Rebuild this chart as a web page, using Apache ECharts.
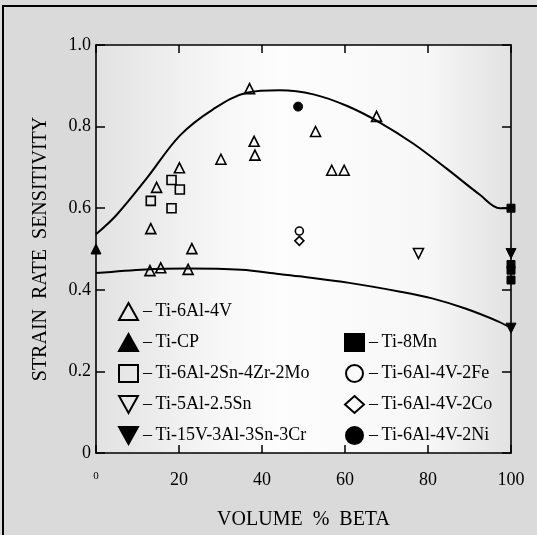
<!DOCTYPE html>
<html>
<head>
<meta charset="utf-8">
<script src="https://cdn.jsdelivr.net/npm/echarts@6/dist/echarts.min.js"></script>
<style>
html, body { margin: 0; padding: 0; background: #dadada; }
#chart { width: 537px; height: 535px; }
</style>
</head>
<body>
<div id="chart"></div>
<script>
// axis ticks
var xTicks = [0, 20, 40, 60, 80, 100];
var yTicks = [0, 0.2, 0.4, 0.6, 0.8, 1.0];

// measured points, [volume % beta, strain rate sensitivity]
var ti64 = [[37, 0.893], [52.9, 0.788], [38.1, 0.764], [38.3, 0.730], [30.1, 0.720],
    [20.1, 0.699], [14.6, 0.651], [13.2, 0.550], [23.1, 0.501], [13.0, 0.447],
    [15.6, 0.454], [22.2, 0.450], [67.6, 0.825], [56.8, 0.693], [59.8, 0.693]];
var tiCP = [[0, 0.50]];
var ti6242 = [[18.2, 0.669], [20.2, 0.646], [13.2, 0.618], [18.2, 0.600]];
var ti5Al = [[77.7, 0.489]];
var ti15V = [[100, 0.489], [100, 0.306]];
var ti8Mn = [[100, 0.600], [100, 0.462], [100, 0.448], [100, 0.424]];
var ti64Fe = [[49, 0.544]];
var ti64Co = [[49, 0.520]];
var ti64Ni = [[48.7, 0.849]];

// envelope curves
var upperCurve = [[0, 0.536], [5, 0.584], [12.2, 0.673], [20.2, 0.778], [28.3, 0.843],
    [36.3, 0.883], [44.3, 0.889], [52.4, 0.879], [60.4, 0.851], [68.4, 0.810],
    [76.5, 0.758], [84.5, 0.697], [92.5, 0.633], [97.3, 0.600], [100, 0.600]];
var lowerCurve = [[0, 0.441], [12, 0.450], [22, 0.452], [35, 0.449], [44, 0.439],
    [49, 0.433], [61, 0.417], [73, 0.396], [81, 0.379], [89, 0.354], [97, 0.322], [100, 0.306]];

var downTri = 'path://M0,0L10,0L5,9Z';
var serif = '"Liberation Serif", "DejaVu Serif", serif';

var chart = echarts.init(document.getElementById('chart'));

function pts(name, data, symbol, size, filled) {
    return {
        name: name,
        type: 'scatter',
        data: data,
        symbol: symbol,
        symbolSize: size,
        itemStyle: filled
            ? { color: '#000', borderColor: '#000', borderWidth: 1, opacity: 1 }
            : { color: 'rgba(255,255,255,0)', borderColor: '#000', borderWidth: 1.6, opacity: 1 },
        z: 5
    };
}

function curve(data) {
    return {
        type: 'line',
        data: data,
        smooth: 0.35,
        symbol: 'none',
        lineStyle: { color: '#000', width: 2 },
        silent: true,
        z: 3
    };
}

var legendText = { fontFamily: serif, fontSize: 18, color: '#000', lineHeight: 18 };
var tickStyle = { color: '#000', width: 1.5 };

chart.setOption({
    backgroundColor: '#dadada',
    animation: false,
    graphic: [
        { type: 'polyline', shape: { points: [[3, 535], [3, 6], [537, 6]] },
          style: { stroke: '#000', lineWidth: 2, fill: null } }
    ],
    grid: {
        left: 96, right: 26, top: 45, bottom: 77,
        show: true,
        borderWidth: 0,
        backgroundColor: {
            type: 'linear', x: 0, y: 0, x2: 1, y2: 0,
            colorStops: [
                { offset: 0, color: '#e2e2e2' },
                { offset: 0.3, color: '#f7f7f7' },
                { offset: 0.45, color: '#fdfdfd' },
                { offset: 0.8, color: '#f7f7f7' },
                { offset: 1, color: '#e2e2e2' }
            ]
        }
    },
    legend: [
        {
            orient: 'vertical', left: 113, top: 297,
            itemWidth: 19, itemHeight: 17, itemGap: 12,
            textStyle: legendText,
            formatter: function (n) { return '\u2013\u2009' + n; },
            data: ['Ti-6Al-4V', 'Ti-CP', 'Ti-6Al-2Sn-4Zr-2Mo', 'Ti-5Al-2.5Sn', 'Ti-15V-3Al-3Sn-3Cr']
        },
        {
            orient: 'vertical', left: 339, top: 328,
            itemWidth: 19, itemHeight: 17, itemGap: 12,
            textStyle: legendText,
            formatter: function (n) { return '\u2013\u2009' + n; },
            data: ['Ti-8Mn', 'Ti-6Al-4V-2Fe', 'Ti-6Al-4V-2Co', 'Ti-6Al-4V-2Ni']
        }
    ],
    xAxis: [
        {
            type: 'value', min: xTicks[0], max: xTicks[xTicks.length - 1], interval: 20,
            name: 'VOLUME  %  BETA', nameLocation: 'middle', nameGap: 57,
            nameTextStyle: { fontFamily: serif, fontSize: 20, color: '#000' },
            axisLine: { onZero: false, lineStyle: { color: '#000', width: 1.6 } },
            axisTick: { inside: true, length: 8, lineStyle: tickStyle },
            axisLabel: {
                margin: 18, fontFamily: serif, fontSize: 18, color: '#000',
                formatter: function (v) { return v === 0 ? '{s|0}' : String(v); },
                rich: { s: { fontSize: 11, fontFamily: serif, color: '#000', padding: [0, 0, 16, 0] } }
            },
            splitLine: { show: false }
        },
        {
            type: 'value', position: 'top', min: 0, max: 100, interval: 20,
            axisLine: { onZero: false, lineStyle: { color: '#000', width: 1.6 } },
            axisTick: { inside: true, length: 8, lineStyle: tickStyle },
            axisLabel: { show: false },
            splitLine: { show: false }
        }
    ],
    yAxis: [
        {
            type: 'value', min: yTicks[0], max: yTicks[yTicks.length - 1], interval: 0.2,
            name: 'STRAIN  RATE  SENSITIVITY', nameLocation: 'middle', nameGap: 45,
            nameTextStyle: { fontFamily: serif, fontSize: 20, color: '#000' },
            axisLine: { onZero: false, lineStyle: { color: '#000', width: 1.6 } },
            axisTick: { inside: true, length: 9, lineStyle: tickStyle },
            axisLabel: {
                margin: 5, fontFamily: serif, fontSize: 18, color: '#000',
                formatter: function (v) { return v === 0 ? '0' : v.toFixed(1); }
            },
            splitLine: { show: false }
        },
        {
            type: 'value', position: 'right', min: 0, max: 1, interval: 0.2,
            axisLine: { show: true, onZero: false, lineStyle: { color: '#000', width: 1.6 } },
            axisTick: { inside: true, length: 9, lineStyle: tickStyle },
            axisLabel: { show: false },
            splitLine: { show: false }
        }
    ],
    series: [
        curve(upperCurve),
        curve(lowerCurve),
        pts('Ti-6Al-4V', ti64, 'triangle', 10, false),
        pts('Ti-CP', tiCP, 'triangle', 10, true),
        pts('Ti-6Al-2Sn-4Zr-2Mo', ti6242, 'rect', 9, false),
        pts('Ti-5Al-2.5Sn', ti5Al, downTri, 10, false),
        pts('Ti-15V-3Al-3Sn-3Cr', ti15V, downTri, 10, true),
        pts('Ti-8Mn', ti8Mn, 'rect', 8, true),
        pts('Ti-6Al-4V-2Fe', ti64Fe, 'circle', 8, false),
        pts('Ti-6Al-4V-2Co', ti64Co, 'diamond', 9, false),
        pts('Ti-6Al-4V-2Ni', ti64Ni, 'circle', 9, true)
    ]
});
</script>
</body>
</html>
